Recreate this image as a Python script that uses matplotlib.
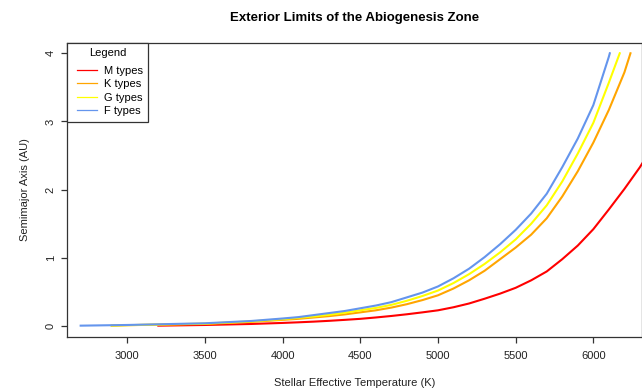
import matplotlib
matplotlib.use("Agg")
import matplotlib.pyplot as plt
from matplotlib.lines import Line2D
from matplotlib.legend_handler import HandlerLine2D

plt.rcParams['font.family'] = ['Liberation Sans', 'DejaVu Sans']

# values (every 100 K above 4000 K)
temp_m = [3200, 3500, 3800, 4000, 4100, 4200, 4300, 4400, 4500, 4600, 4700, 4800, 4900, 5000,
          5100, 5200, 5300, 5400, 5500, 5600, 5700, 5800, 5900, 6000, 6100, 6200, 6300, 6400]
axis_m = [0.005, 0.015, 0.03, 0.045, 0.054, 0.064, 0.076, 0.09, 0.105, 0.125, 0.147, 0.172, 0.20, 0.23,
          0.275, 0.33, 0.40, 0.475, 0.56, 0.67, 0.80, 0.98, 1.18, 1.42, 1.71, 2.01, 2.33, 2.70]

temp_k = [2900, 3000, 3500, 3800, 4000, 4100, 4200, 4300, 4400, 4500, 4600, 4700, 4800, 4900, 5000,
          5100, 5200, 5300, 5400, 5500, 5600, 5700, 5800, 5900, 6000, 6100, 6200, 6239]
axis_k = [0.005, 0.012, 0.03, 0.06, 0.09, 0.105, 0.125, 0.145, 0.17, 0.20, 0.23, 0.27, 0.32, 0.38, 0.45,
          0.55, 0.67, 0.81, 0.98, 1.15, 1.34, 1.58, 1.90, 2.27, 2.69, 3.17, 3.72, 4.0]

temp_g = [2900, 3000, 3500, 3800, 4000, 4100, 4200, 4300, 4400, 4500, 4600, 4700, 4800, 4900, 5000,
          5100, 5200, 5300, 5400, 5500, 5600, 5700, 5800, 5900, 6000, 6100, 6170]
axis_g = [0.005, 0.012, 0.035, 0.068, 0.10, 0.12, 0.14, 0.165, 0.195, 0.23, 0.265, 0.31, 0.37, 0.44, 0.52,
          0.63, 0.76, 0.91, 1.08, 1.27, 1.50, 1.77, 2.12, 2.53, 2.98, 3.57, 4.0]

temp_f = [2700, 3000, 3500, 3800, 4000, 4100, 4200, 4300, 4400, 4500, 4600, 4700, 4800, 4900, 5000,
          5100, 5200, 5300, 5400, 5500, 5600, 5700, 5800, 5900, 6000, 6100, 6106]
axis_f = [0.005, 0.015, 0.04, 0.074, 0.11, 0.13, 0.16, 0.19, 0.22, 0.26, 0.30, 0.35, 0.42, 0.49, 0.58,
          0.70, 0.84, 1.01, 1.20, 1.41, 1.65, 1.94, 2.33, 2.75, 3.24, 3.95, 4.0]

names = ["M types", "K types", "G types", "F types"]
colors = ["#FF0000", "#FFA500", "#FFFF00", "#6495ED"]

fig = plt.figure(figsize=(6.42, 3.92), dpi=100)
ax = fig.add_axes([67.3 / 642, 1 - 336.7 / 392, (641.5 - 67.3) / 642, (336.7 - 42.7) / 392])

for t, a, c in zip([temp_m, temp_k, temp_g, temp_f], [axis_m, axis_k, axis_g, axis_f], colors):
    ax.plot(t, a, color=c, lw=1.5)

ax.set_xlim(2614, 6310)
ax.set_ylim(-0.157, 4.155)
ax.set_xticks([3000, 3500, 4000, 4500, 5000, 5500, 6000])
ax.set_yticks([0, 1, 2, 3, 4])
for lab in ax.get_yticklabels():
    lab.set_rotation(90)
    lab.set_va('center')

edge = "#333333"
for s in ax.spines.values():
    s.set_color(edge)
    s.set_linewidth(0.9)
ax.tick_params(direction='out', length=4.3, width=0.9, color=edge, labelsize=8, labelcolor="#222222")
ax.tick_params(axis='x', pad=6)
ax.tick_params(axis='y', pad=4)

ax.set_title("Exterior Limits of the Abiogenesis Zone", fontsize=9.5, fontweight='bold', pad=15.3)
ax.set_xlabel("Stellar Effective Temperature (K)", fontsize=8, labelpad=12, color="#222222")
ax.set_ylabel("Semimajor Axis (AU)", fontsize=8, labelpad=11, color="#222222")

handles = [Line2D([], [], color=c, lw=0.9) for c in colors]
leg = ax.legend(handles, names, title="Legend", loc='upper left', bbox_to_anchor=(0, 1),
                borderaxespad=0, fancybox=False, framealpha=1, fontsize=8, title_fontsize=8,
                handlelength=2.16, handletextpad=0.63, labelspacing=0.31, borderpad=0.5,
                handler_map={Line2D: HandlerLine2D(xpad=0.36)})
leg._legend_box.sep = 5.3
leg.get_frame().set_edgecolor(edge)
leg.get_frame().set_linewidth(0.9)

fig.savefig("out.png", dpi=100)
